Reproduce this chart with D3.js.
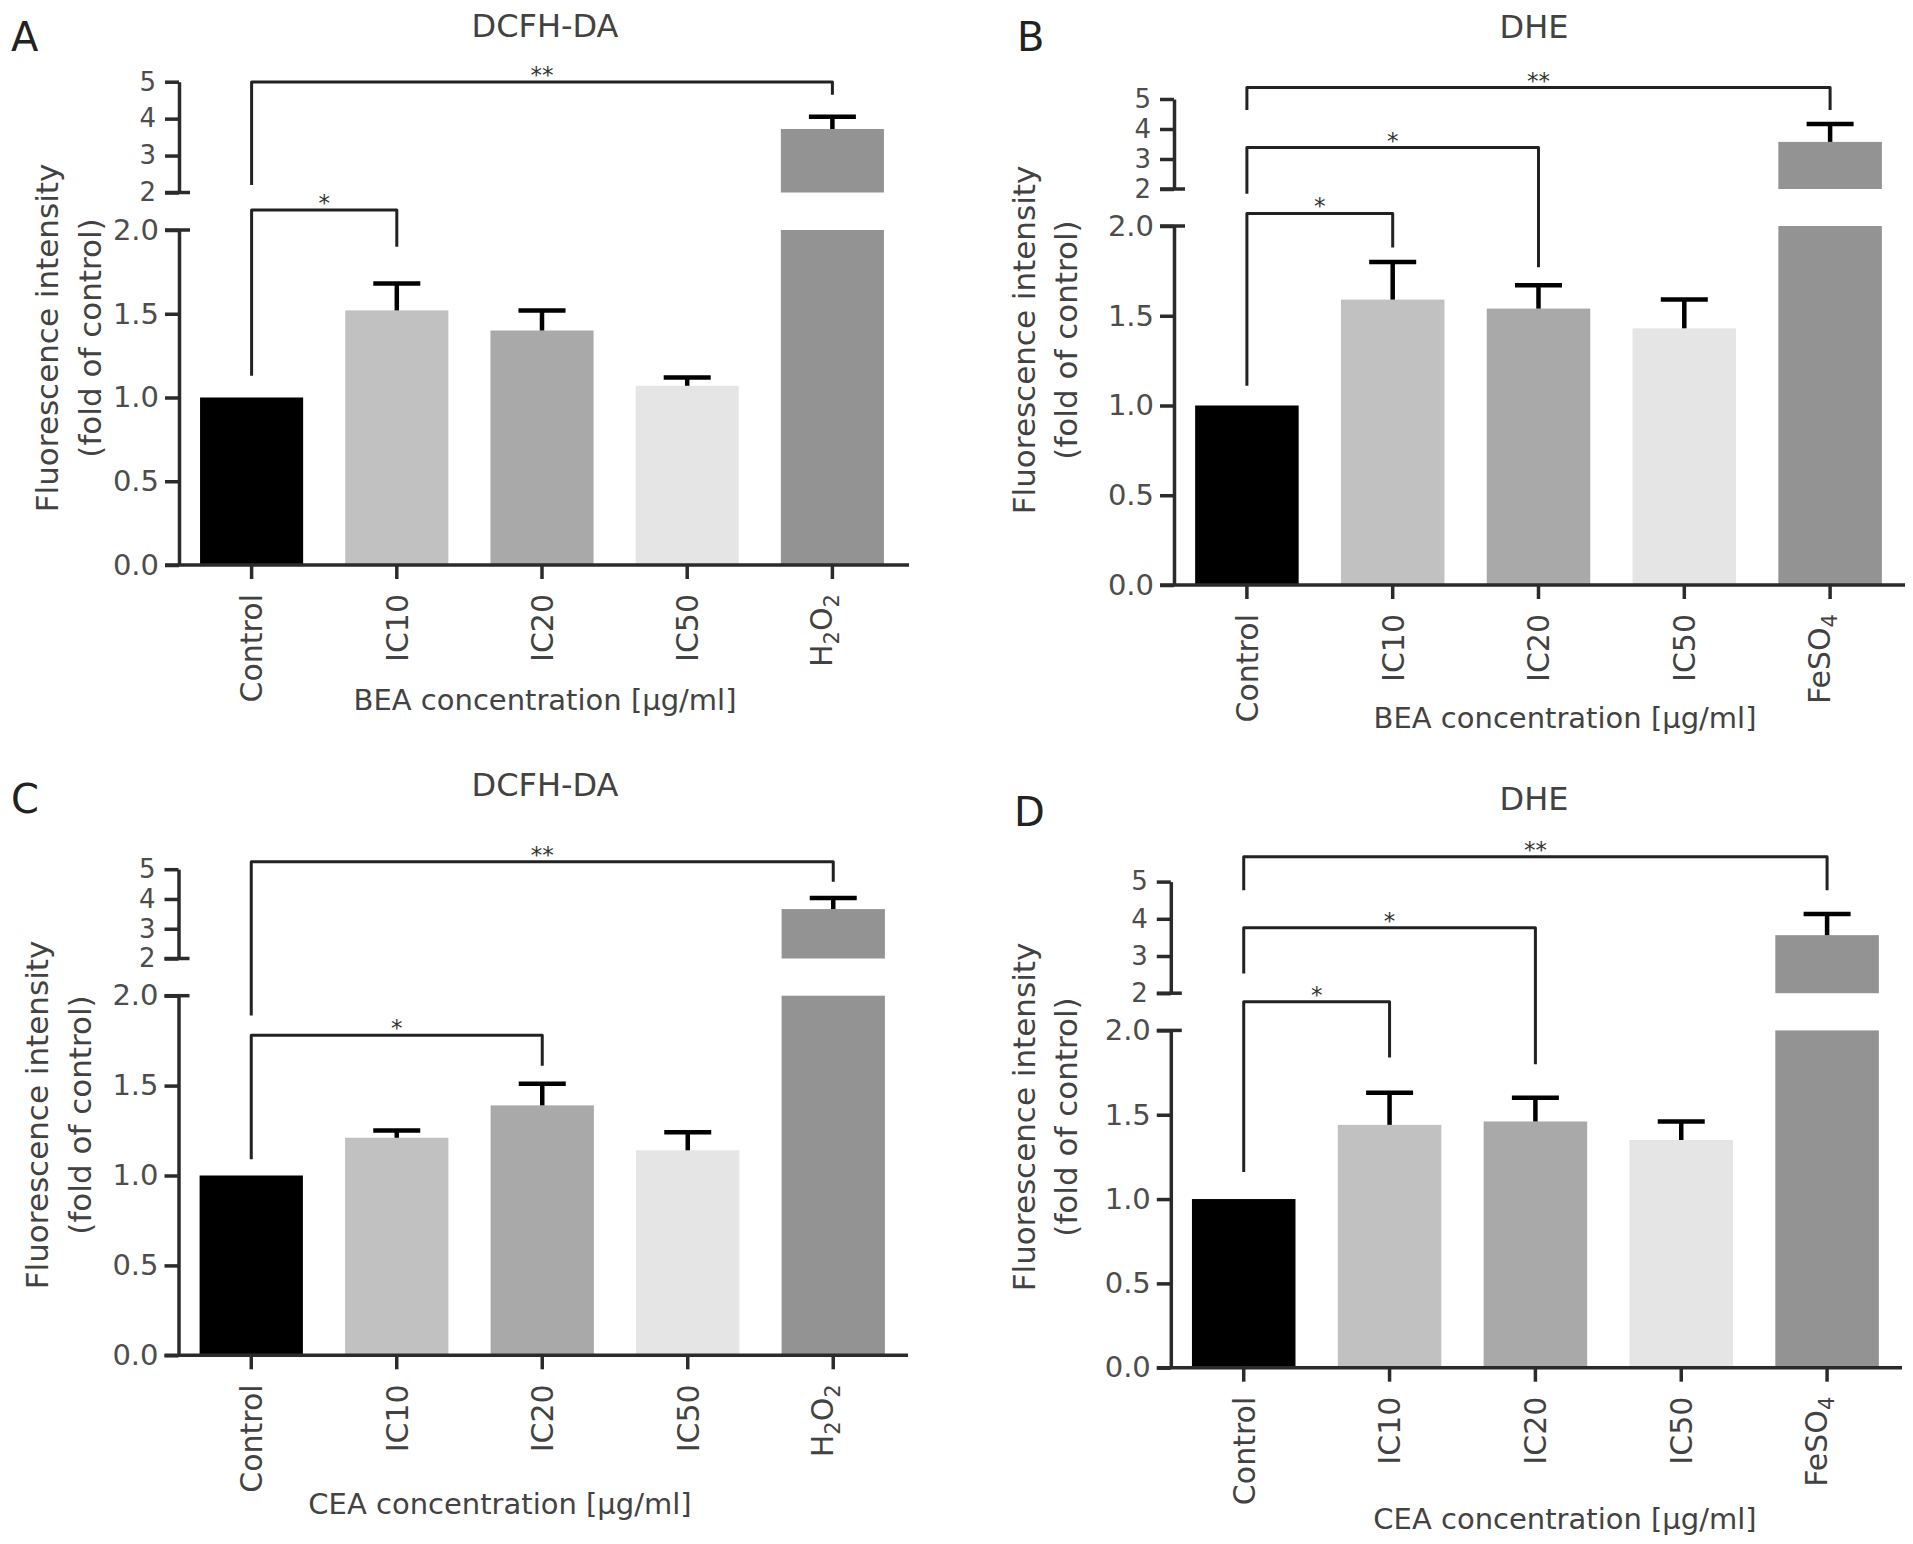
<!DOCTYPE html>
<html lang="en">
<head>
<meta charset="UTF-8" />
<title>Fluorescence intensity</title>
<style>
  * { margin: 0; padding: 0; }
  body { background: #fff; }
  text { font-family: "DejaVu Sans", sans-serif; }
</style>
</head>
<body>
<script src="https://cdn.jsdelivr.net/npm/d3@7/dist/d3.min.js"></script>
<script>
// categories and ticks
const categoriesH2O2 = ["Control", "IC10", "IC20", "IC50", "H2O2"];
const categoriesFeSO4 = ["Control", "IC10", "IC20", "IC50", "FeSO4"];
const chemicals = ["H2O2", "FeSO4"];
const lowerTicks = [0, 0.5, 1.0, 1.5, 2.0];
const upperTicks = [2, 3, 4, 5];

// mean and SD, fold of control
const meanA = [1.0, 1.52, 1.40, 1.07, 3.72];
const sdA = [0, 0.16, 0.12, 0.05, 0.33];
const meanB = [1.0, 1.59, 1.54, 1.43, 3.57];
const sdB = [0, 0.21, 0.13, 0.16, 0.60];
const meanC = [1.0, 1.21, 1.39, 1.14, 3.66];
const sdC = [0, 0.04, 0.12, 0.10, 0.37];
const meanD = [1.0, 1.44, 1.46, 1.35, 3.56];
const sdD = [0, 0.19, 0.14, 0.11, 0.57];

// brackets: [from, to, level, left end, right end, mark], values as [segment, value]
const bracketsA = [
  [0, 1, ["lo", 2.12], ["lo", 1.13], ["lo", 1.90], "*"],
  [0, 4, ["hi", 4.99], ["hi", 2.20], ["hi", 4.65], "**"],
];
const bracketsB = [
  [0, 1, ["lo", 2.07], ["lo", 1.11], ["lo", 1.88], "*"],
  [0, 2, ["hi", 3.38], ["lo", 2.18], ["lo", 1.77], "*"],
  [0, 4, ["hi", 5.38], ["hi", 4.63], ["hi", 4.63], "**"],
];
const bracketsC = [
  [0, 2, ["lo", 1.78], ["lo", 1.09], ["lo", 1.61], "*"],
  [0, 4, ["hi", 5.25], ["lo", 1.89], ["hi", 4.58], "**"],
];
const bracketsD = [
  [0, 1, ["lo", 2.17], ["lo", 1.16], ["lo", 1.84], "*"],
  [0, 2, ["hi", 3.76], ["hi", 2.53], ["lo", 1.80], "*"],
  [0, 4, ["hi", 5.67], ["hi", 4.77], ["hi", 4.77], "**"],
];

const barColors = ["#000000", "#c1c1c1", "#a9a9a9", "#e5e5e5", "#939393"];
const axisColor = "#2b2b2b";
const textColor = "#424242";

const panels = [
  { letter: "A", title: "DCFH-DA", xTitle: "BEA concentration [μg/ml]", cats: categoriesH2O2, mean: meanA, sd: sdA, brackets: bracketsA,
    ax: 179, xr: [179, 905], xEnd: 909, lo: [565, 230], hi: [192.5, 81.7],
    letterPos: [11, 51], titlePos: [545, 37.3], xTitlePos: [545, 710], yTitlePos: [47, 90, 338] },
  { letter: "B", title: "DHE", xTitle: "BEA concentration [μg/ml]", cats: categoriesFeSO4, mean: meanB, sd: sdB, brackets: bracketsB,
    ax: 1174, xr: [1174, 1903], xEnd: 1905, lo: [585, 226], hi: [189, 99],
    letterPos: [1017, 51], titlePos: [1534, 37.5], xTitlePos: [1565, 727.5], yTitlePos: [1024, 1066, 340] },
  { letter: "C", title: "DCFH-DA", xTitle: "CEA concentration [μg/ml]", cats: categoriesH2O2, mean: meanC, sd: sdC, brackets: bracketsC,
    ax: 178.5, xr: [178.5, 906], xEnd: 908, lo: [1355.3, 995.7], hi: [958.5, 869.2],
    letterPos: [11, 813], titlePos: [545, 796], xTitlePos: [500, 1514], yTitlePos: [37, 80, 1115] },
  { letter: "D", title: "DHE", xTitle: "CEA concentration [μg/ml]", cats: categoriesFeSO4, mean: meanD, sd: sdD, brackets: bracketsD,
    ax: 1170.8, xr: [1170.8, 1900], xEnd: 1902, lo: [1367.7, 1030.4], hi: [993.2, 881.6],
    letterPos: [1014, 826], titlePos: [1534, 809.7], xTitlePos: [1565, 1529], yTitlePos: [1024, 1066, 1117] },
];

const svg = d3.select("body").append("svg").attr("width", 1913).attr("height", 1544);

function catLabel(text, name) {
  if (!chemicals.includes(name)) {
    text.text(name);
    return;
  }
  // digits in formulas go to subscript
  const parts = name.match(/[A-Za-z]+|\d+/g);
  let down = false;
  parts.forEach((p) => {
    const isNum = /\d/.test(p);
    const t = text.append("tspan").text(p);
    if (isNum) {
      t.attr("font-size", 21).attr("dy", 7);
      down = true;
    } else {
      t.attr("dy", down ? -7 : 0);
      down = false;
    }
  });
}

panels.forEach((p) => {
  const g = svg.append("g");
  const x = d3.scaleBand().domain(p.cats).range(p.xr).paddingInner(0.29).paddingOuter(0.145);
  const lo = d3.scaleLinear().domain([0, 2]).range(p.lo);
  const hi = d3.scaleLinear().domain([2, 5]).range(p.hi);
  const yv = (v) => (v > 2 ? hi(v) : lo(v));
  const ys = (s) => (s[0] === "hi" ? hi(s[1]) : lo(s[1]));
  const cx = (i) => x(p.cats[i]) + x.bandwidth() / 2;

  // bars, split at the break
  p.mean.forEach((m, i) => {
    g.append("rect")
      .attr("x", x(p.cats[i]))
      .attr("width", x.bandwidth())
      .attr("y", lo(Math.min(m, 2)))
      .attr("height", lo(0) - lo(Math.min(m, 2)))
      .attr("fill", barColors[i]);
    if (m > 2) {
      g.append("rect")
        .attr("x", x(p.cats[i]))
        .attr("width", x.bandwidth())
        .attr("y", hi(m))
        .attr("height", hi(2) - hi(m))
        .attr("fill", barColors[i]);
    }
  });

  // error bars (upper half)
  p.mean.forEach((m, i) => {
    if (!p.sd[i]) return;
    const top = yv(m + p.sd[i]);
    g.append("line")
      .attr("x1", cx(i)).attr("x2", cx(i))
      .attr("y1", yv(m)).attr("y2", top)
      .attr("stroke", "#000").attr("stroke-width", 4.5);
    g.append("line")
      .attr("x1", cx(i) - 23.5).attr("x2", cx(i) + 23.5)
      .attr("y1", top).attr("y2", top)
      .attr("stroke", "#000").attr("stroke-width", 4.5);
  });

  // y axes
  const yLo = g.append("g")
    .attr("transform", `translate(${p.ax},0)`)
    .call(d3.axisLeft(lo).tickValues(lowerTicks).tickFormat(d3.format(".1f")).tickSize(14).tickSizeOuter(0).tickPadding(6));
  const yHi = g.append("g")
    .attr("transform", `translate(${p.ax},0)`)
    .call(d3.axisLeft(hi).tickValues(upperTicks).tickFormat(d3.format("d")).tickSize(14).tickSizeOuter(0).tickPadding(9));
  [[yLo, 29], [yHi, 26]].forEach(([a, fs]) => {
    a.attr("color", axisColor).attr("font-size", fs);
    a.selectAll("path, line").attr("stroke-width", 3.5);
    a.selectAll("text").attr("fill", "#4d4d4d");
  });
  // break caps
  [lo(2), hi(2)].forEach((yy) => {
    g.append("line")
      .attr("x1", p.ax - 14).attr("x2", p.ax + 11)
      .attr("y1", yy).attr("y2", yy)
      .attr("stroke", axisColor).attr("stroke-width", 3.5);
  });

  // x axis
  g.append("line")
    .attr("x1", p.ax - 14).attr("x2", p.xEnd)
    .attr("y1", lo(0)).attr("y2", lo(0))
    .attr("stroke", axisColor).attr("stroke-width", 3.5);
  p.cats.forEach((c, i) => {
    g.append("line")
      .attr("x1", cx(i)).attr("x2", cx(i))
      .attr("y1", lo(0)).attr("y2", lo(0) + 14)
      .attr("stroke", axisColor).attr("stroke-width", 3.5);
    const t = g.append("text")
      .attr("transform", `translate(${cx(i)},${lo(0) + 29}) rotate(-90)`)
      .attr("text-anchor", "end")
      .attr("dy", "0.36em")
      .attr("font-size", 30)
      .attr("fill", textColor);
    catLabel(t, c);
  });

  // significance brackets
  p.brackets.forEach(([a, b, lev, le, re, mark]) => {
    const yl = ys(lev);
    g.append("path")
      .attr("d", `M${cx(a)},${ys(le)}V${yl}H${cx(b)}V${ys(re)}`)
      .attr("fill", "none")
      .attr("stroke", "#222")
      .attr("stroke-width", 3)
      .attr("stroke-linejoin", "round");
    g.append("text")
      .attr("x", (cx(a) + cx(b)) / 2)
      .attr("y", yl + 1)
      .attr("text-anchor", "middle")
      .attr("font-size", 23)
      .attr("fill", "#333")
      .text(mark);
  });

  // texts
  g.append("text")
    .attr("x", p.letterPos[0]).attr("y", p.letterPos[1])
    .attr("font-size", 40).attr("fill", "#222")
    .text(p.letter);
  g.append("text")
    .attr("x", p.titlePos[0]).attr("y", p.titlePos[1])
    .attr("text-anchor", "middle").attr("font-size", 32).attr("fill", textColor)
    .text(p.title);
  g.append("text")
    .attr("x", p.xTitlePos[0]).attr("y", p.xTitlePos[1])
    .attr("text-anchor", "middle").attr("font-size", 29).attr("fill", textColor)
    .text(p.xTitle);
  ["Fluorescence intensity", "(fold of control)"].forEach((line, k) => {
    g.append("text")
      .attr("transform", `translate(${p.yTitlePos[k]},${p.yTitlePos[2]}) rotate(-90)`)
      .attr("text-anchor", "middle").attr("dy", "0.36em")
      .attr("font-size", 31).attr("fill", textColor)
      .text(line);
  });
});
</script>
</body>
</html>
